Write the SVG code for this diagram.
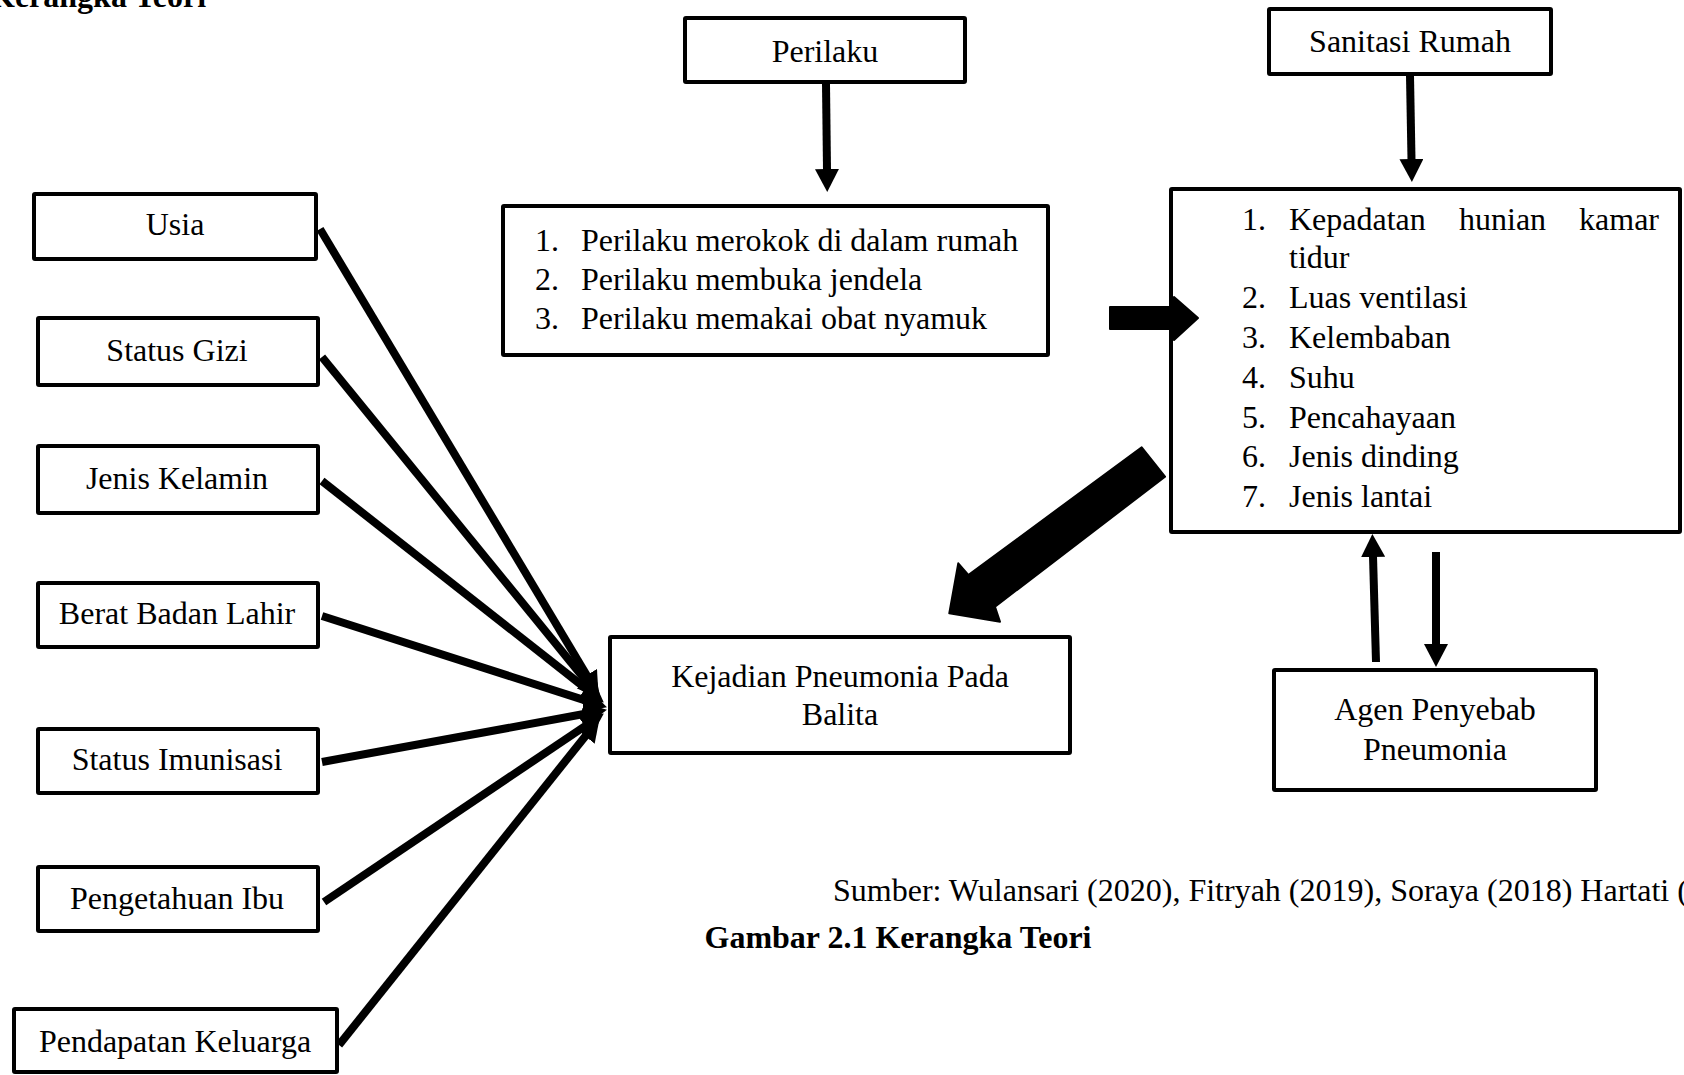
<svg xmlns="http://www.w3.org/2000/svg" width="1684" height="1075" viewBox="0 0 1684 1075">
<style>
.box{fill:#fff;stroke:#000;stroke-width:4;}
.t{font-family:"Liberation Serif","Times New Roman",serif;font-size:32px;fill:#000;}
.c{text-anchor:middle;}
.b{font-weight:bold;}
.ln{stroke:#000;stroke-width:8;fill:none;marker-end:url(#head);}
.blk{fill:#000;stroke:#000;stroke-width:2;stroke-linejoin:round;}
</style>
<defs>
<marker id="head" viewBox="0 -12 23 24" refX="1" refY="0" markerWidth="23" markerHeight="24" markerUnits="userSpaceOnUse" orient="auto">
<path d="M0,-12 L23,0 L0,12 Z" fill="#000"/>
</marker>
</defs>
<rect width="1684" height="1075" fill="#fff"/>
<text class="t b" x="-10" y="7">Kerangka Teori</text>

<g id="connectors">
<path class="ln" d="M826,84 L827,170"/>
<path class="ln" d="M1410,76 L1411.5,160"/>
<path class="ln" d="M1376,662 L1373,556"/>
<path class="ln" d="M1436,552 L1436,645"/>
<path class="ln" d="M320,229 L587.2,676"/>
<path class="ln" d="M322,357 L586.7,681.7"/>
<path class="ln" d="M322,481 L586.5,689"/>
<path class="ln" d="M322,616 L586,700.6"/>
<path class="ln" d="M322,762 L585.3,713.8"/>
<path class="ln" d="M324,902 L585.6,725.7"/>
<path class="ln" d="M339,1045 L585.9,735.4"/>
</g>

<g id="perilaku"><rect class="box" x="685" y="18" width="280" height="64" rx="1"/><text class="t c" x="825" y="62">Perilaku</text></g>
<g id="sanitasi"><rect class="box" x="1269" y="9" width="282" height="65" rx="1"/><text class="t c" x="1410" y="52">Sanitasi Rumah</text></g>
<g id="perilaku-list"><rect class="box" x="503" y="206" width="545" height="149" rx="1"/>
<text class="t" x="535" y="251">1.</text><text class="t" x="581" y="251">Perilaku merokok di dalam rumah</text>
<text class="t" x="535" y="290">2.</text><text class="t" x="581" y="290">Perilaku membuka jendela</text>
<text class="t" x="535" y="329">3.</text><text class="t" x="581" y="329">Perilaku memakai obat nyamuk</text>
</g>
<g id="sanitasi-list"><rect class="box" x="1171" y="189" width="509" height="343" rx="1"/>
<text class="t" x="1242" y="230">1.</text><text class="t" x="1289" y="230">Kepadatan</text><text class="t" x="1459" y="230">hunian</text><text class="t" x="1659" y="230" text-anchor="end">kamar</text>
<text class="t" x="1289" y="268">tidur</text>
<text class="t" x="1242" y="308">2.</text><text class="t" x="1289" y="308">Luas ventilasi</text>
<text class="t" x="1242" y="348">3.</text><text class="t" x="1289" y="348">Kelembaban</text>
<text class="t" x="1242" y="388">4.</text><text class="t" x="1289" y="388">Suhu</text>
<text class="t" x="1242" y="428">5.</text><text class="t" x="1289" y="428">Pencahayaan</text>
<text class="t" x="1242" y="467">6.</text><text class="t" x="1289" y="467">Jenis dinding</text>
<text class="t" x="1242" y="507">7.</text><text class="t" x="1289" y="507">Jenis lantai</text>
</g>

<g id="block-arrows">
<polygon class="blk" points="1110,307 1174,307 1174,297 1198,318 1174,340 1174,329 1110,329"/>
<polygon class="blk" points="1141.7,447.3 1165,476.7 995,606.7 1000,621.7 949.3,613.3 958.3,563.3 968.3,575"/>
</g>

<g id="usia"><rect class="box" x="34" y="194" width="282" height="65" rx="1"/><text class="t c" x="175" y="235">Usia</text></g>
<g id="status-gizi"><rect class="box" x="38" y="318" width="280" height="67" rx="1"/><text class="t c" x="177" y="361">Status Gizi</text></g>
<g id="jenis-kelamin"><rect class="box" x="38" y="446" width="280" height="67" rx="1"/><text class="t c" x="177" y="489">Jenis Kelamin</text></g>
<g id="berat-badan"><rect class="box" x="38" y="583" width="280" height="64" rx="1"/><text class="t c" x="177" y="624">Berat Badan Lahir</text></g>
<g id="status-imunisasi"><rect class="box" x="38" y="729" width="280" height="64" rx="1"/><text class="t c" x="177" y="770">Status Imunisasi</text></g>
<g id="pengetahuan-ibu"><rect class="box" x="38" y="867" width="280" height="64" rx="1"/><text class="t c" x="177" y="909">Pengetahuan Ibu</text></g>
<g id="pendapatan"><rect class="box" x="14" y="1009" width="323" height="63" rx="1"/><text class="t c" x="175" y="1052">Pendapatan Keluarga</text></g>

<g id="kejadian"><rect class="box" x="610" y="637" width="460" height="116" rx="1"/><text class="t c" x="840" y="687">Kejadian Pneumonia Pada</text><text class="t c" x="840" y="725">Balita</text></g>
<g id="agen"><rect class="box" x="1274" y="670" width="322" height="120" rx="1"/><text class="t c" x="1435" y="720">Agen Penyebab</text><text class="t c" x="1435" y="760">Pneumonia</text></g>

<text class="t" x="833" y="901">Sumber: Wulansari (2020), Fitryah (2019), Soraya (2018) Hartati (</text>
<text class="t b" x="704.5" y="948">Gambar 2.1 Kerangka Teori</text>
</svg>
